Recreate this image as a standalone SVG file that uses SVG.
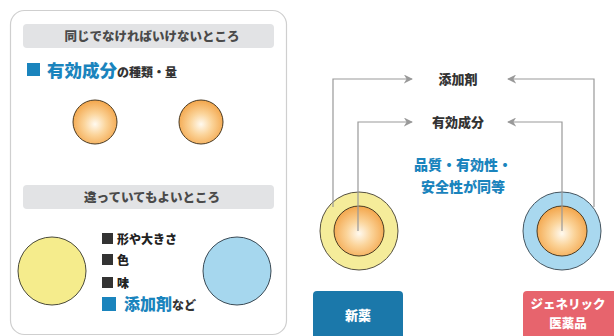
<svg xmlns="http://www.w3.org/2000/svg" width="614" height="336" viewBox="0 0 614 336">
<style>
text{font-family:"Noto Sans CJK JP","Noto Sans",sans-serif;font-weight:900}
.hdr{fill:#e2e3e5}
.hdrt{font-size:12.5px;fill:#4a4a4a;text-anchor:middle}
.lst{font-size:12px;fill:#222}
.dark{fill:#333}
.blue{fill:#1a84bd}
.lbl{font-size:13px;fill:#333;text-anchor:middle}
.conn{fill:none;stroke:#999;stroke-width:1.2}
.core{fill:url(#og);stroke:#4a3a22;stroke-width:1}
</style>
<defs>
<radialGradient id="og" cx="0.5" cy="0.55" r="0.55">
<stop offset="0" stop-color="#fffaf0"/>
<stop offset="0.45" stop-color="#fbd49a"/>
<stop offset="1" stop-color="#f3a54a"/>
</radialGradient>
<marker id="ah" viewBox="0 0 10 10" refX="9" refY="5" markerWidth="9" markerHeight="9" markerUnits="userSpaceOnUse" orient="auto">
<path d="M0,0 L10,5 L0,10 L3,5 Z" fill="#999"/>
</marker>
</defs>
<rect width="614" height="336" fill="#fff"/>
<g id="panel">
<rect x="10.5" y="10.5" width="276" height="324" rx="14" fill="#fff" stroke="#cfcfcf" stroke-width="1.2"/>
</g>
<g id="header-same">
<rect class="hdr" x="23" y="24" width="251" height="24" rx="4"/>
<text class="hdrt" x="152" y="41">同じでなければいけないところ</text>
</g>
<g id="active-ingredient-label">
<rect class="blue" x="27" y="63" width="13" height="13"/>
<text x="47" y="77" font-size="17.5" class="blue">有効成分<tspan font-size="12" class="dark">の種類・量</tspan></text>
</g>
<g id="core-left">
<circle class="core" cx="95" cy="122" r="22"/>
</g>
<g id="core-right">
<circle class="core" cx="201" cy="122" r="22"/>
</g>
<g id="header-diff">
<rect class="hdr" x="23" y="185" width="251" height="24" rx="4"/>
<text class="hdrt" x="152" y="202">違っていてもよいところ</text>
</g>
<g id="yellow-tablet">
<circle cx="52" cy="271" r="34" fill="#f5ec8c" stroke="#4a4a3a" stroke-width="1"/>
</g>
<g id="blue-tablet">
<circle cx="237" cy="271" r="34" fill="#a6d7ee" stroke="#3a4a55" stroke-width="1"/>
</g>
<g id="diff-list">
<rect class="dark" x="102" y="233" width="11" height="11"/>
<text class="lst" x="117" y="244">形や大きさ</text>
<rect class="dark" x="102" y="254" width="11" height="11"/>
<text class="lst" x="117" y="265">色</text>
<rect class="dark" x="102" y="277" width="11" height="11"/>
<text class="lst" x="117" y="288">味</text>
<rect class="blue" x="102" y="297" width="14" height="14"/>
<text x="124" y="310" font-size="16" class="blue">添加剤<tspan font-size="12" class="dark">など</tspan></text>
</g>
<g id="label-additive">
<text class="lbl" x="458" y="84">添加剤</text>
</g>
<g id="label-active">
<text class="lbl" x="458" y="127">有効成分</text>
</g>
<g id="equal-note">
<text x="463" y="170" font-size="14" class="blue" text-anchor="middle">品質・有効性・</text>
<text x="463" y="192" font-size="14" class="blue" text-anchor="middle">安全性が同等</text>
</g>
<g id="new-drug-tablet">
<circle cx="359" cy="231" r="39" fill="#f5ec9a" stroke="#555040" stroke-width="1"/>
<circle class="core" cx="359" cy="231" r="25"/>
</g>
<g id="generic-tablet">
<circle cx="562" cy="231" r="39" fill="#a9d8ef" stroke="#455560" stroke-width="1"/>
<circle class="core" cx="562" cy="231" r="25"/>
</g>
<g id="new-drug-button">
<rect x="313" y="291" width="90" height="50" rx="4" fill="#1b78aa"/>
<text x="358" y="320" font-size="13" fill="#fff" text-anchor="middle">新薬</text>
</g>
<g id="generic-button">
<rect x="523" y="291" width="95" height="50" rx="4" fill="#e7646d"/>
<text x="568" y="309" font-size="12.5" fill="#fff" text-anchor="middle">ジェネリック</text>
<text x="568" y="328" font-size="12.5" fill="#fff" text-anchor="middle">医薬品</text>
</g>
<g id="connectors">
<path class="conn" d="M333,207 V79 H412" marker-end="url(#ah)"/>
<path class="conn" d="M594,207 V79 H508" marker-end="url(#ah)"/>
<path class="conn" d="M358,231 V122 H412" marker-end="url(#ah)"/>
<path class="conn" d="M562,231 V122 H508" marker-end="url(#ah)"/>
</g>
</svg>
